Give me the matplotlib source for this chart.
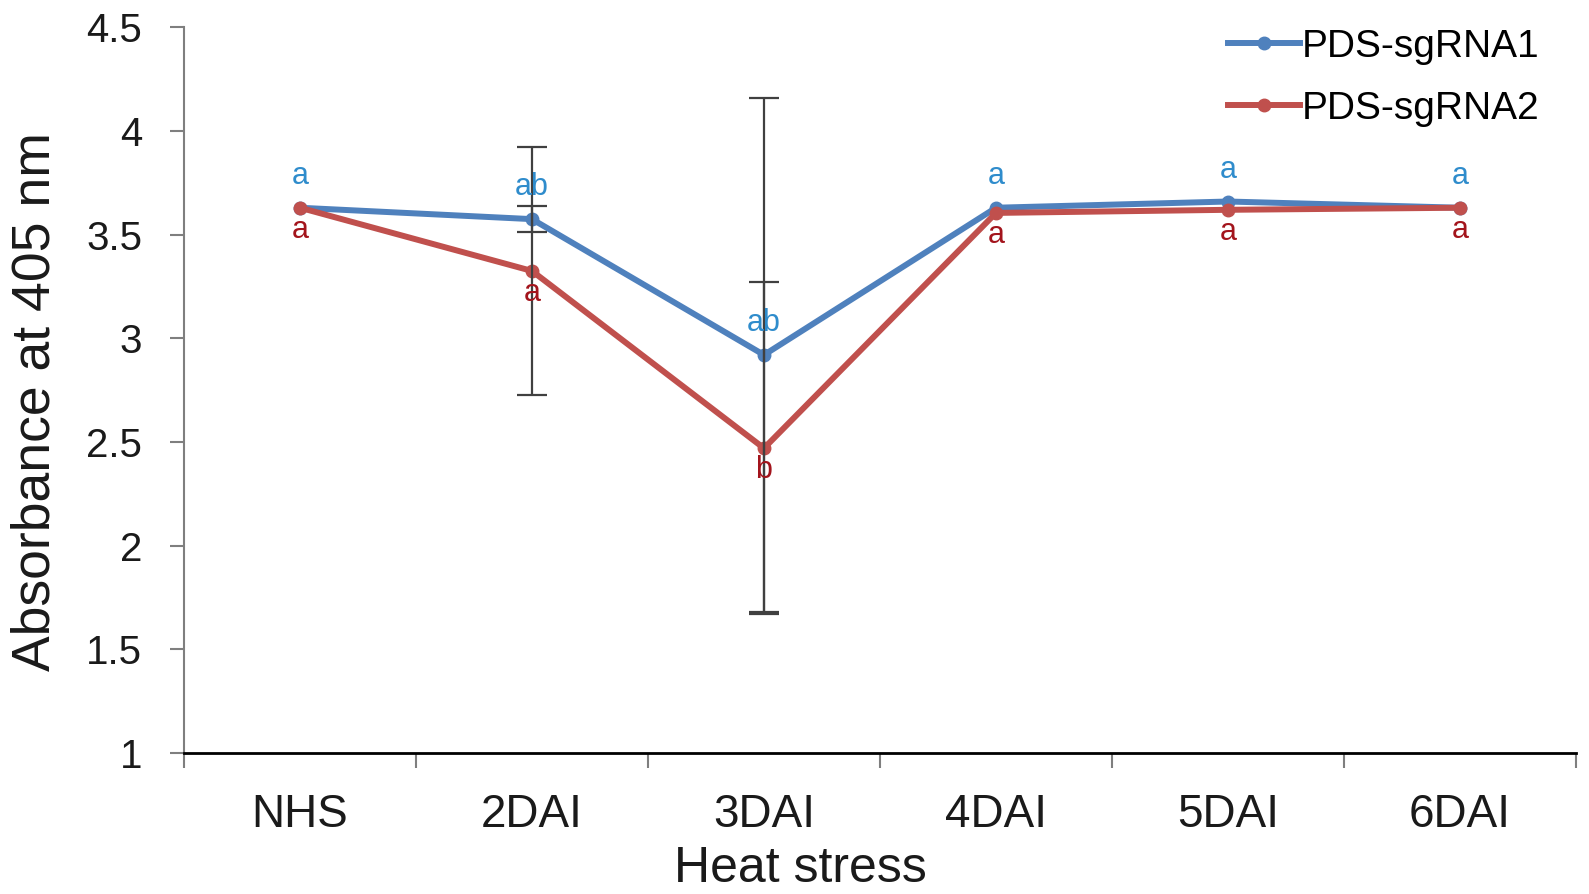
import numpy as np
import matplotlib
matplotlib.use('Agg')
import matplotlib.pyplot as plt

plt.rcParams['font.family'] = ['Liberation Sans', 'DejaVu Sans']

categories = ['NHS', '2DAI', '3DAI', '4DAI', '5DAI', '6DAI']
sg1 = np.array([3.63, 3.575, 2.92, 3.63, 3.66, 3.63])
sg2 = np.array([3.63, 3.325, 2.47, 3.605, 3.62, 3.63])
sg1_err = np.array([0, 0.062, 1.24, 0, 0, 0])
sg2_err = np.array([0, 0.60, 0.80, 0, 0, 0])
sg1_letters = ['a', 'ab', 'ab', 'a', 'a', 'a']
sg2_letters = ['a', 'a', 'b', 'a', 'a', 'a']

blue = '#4f81bd'
red = '#c0504d'

fig = plt.figure(figsize=(15.89, 8.94), dpi=100)
ax = fig.add_axes([0.1158, 0.1577, 0.876, 0.8117])

x = np.arange(len(categories))
ax.plot(x, sg1, color=blue, lw=4.3, marker='o', ms=9, label='PDS-sgRNA1', zorder=2)
ax.plot(x, sg2, color=red, lw=4.3, marker='o', ms=9, label='PDS-sgRNA2', zorder=3)

# error bars only where there is one
for vals, err in [(sg1, sg1_err), (sg2, sg2_err)]:
    m = err > 0
    ax.errorbar(x[m], vals[m], yerr=err[m], fmt='none', ecolor='#404040',
                elinewidth=1.6, capsize=11, capthick=1.6, zorder=4)

for i in range(len(categories)):
    ax.annotate(sg1_letters[i], (x[i], sg1[i]), xytext=(0, 23), textcoords='offset points',
                ha='center', va='center', fontsize=22, color='#2f8ccc', zorder=5)
    ax.annotate(sg2_letters[i], (x[i], sg2[i]), xytext=(0, -16), textcoords='offset points',
                ha='center', va='center', fontsize=22, color='#a3141c', zorder=5)

ax.set_xlim(-0.5, 5.5)
ax.set_ylim(1, 4.5)
ax.set_yticks(np.arange(1, 4.51, 0.5))
ax.set_yticklabels(['1', '1.5', '2', '2.5', '3', '3.5', '4', '4.5'])
ax.set_xticks(x)
ax.set_xticklabels(categories)
ax.set_xticks(np.arange(-0.5, 5.6, 1), minor=True)

ax.tick_params(axis='x', which='major', length=0, pad=29, labelsize=33, labelcolor='#1a1a1a')
ax.tick_params(axis='x', which='minor', length=11, width=1.5, color='#7f7f7f')
ax.tick_params(axis='y', length=10, width=1.5, color='#7f7f7f', pad=20, labelsize=29,
               labelcolor='#1a1a1a')

for s in ['top', 'right']:
    ax.spines[s].set_visible(False)
ax.spines['left'].set_color('#7f7f7f')
ax.spines['left'].set_linewidth(1.5)
ax.spines['bottom'].set_color('#000000')
ax.spines['bottom'].set_linewidth(2)

ax.set_xlabel('Heat stress', fontsize=36, color='#1a1a1a', va='top')
ax.xaxis.set_label_coords(0.443, -0.128)
ax.set_ylabel('Absorbance at 405 nm', fontsize=38.5, color='#1a1a1a', va='center')
ax.yaxis.set_label_coords(-0.107, 0.485)

fig.legend(loc='upper left', bbox_to_anchor=(0.773, 0.968), frameon=False, fontsize=28,
           handlelength=1.85, handletextpad=0.05, borderpad=0, borderaxespad=0,
           labelspacing=0.68)

fig.savefig('out.png', dpi=100)
